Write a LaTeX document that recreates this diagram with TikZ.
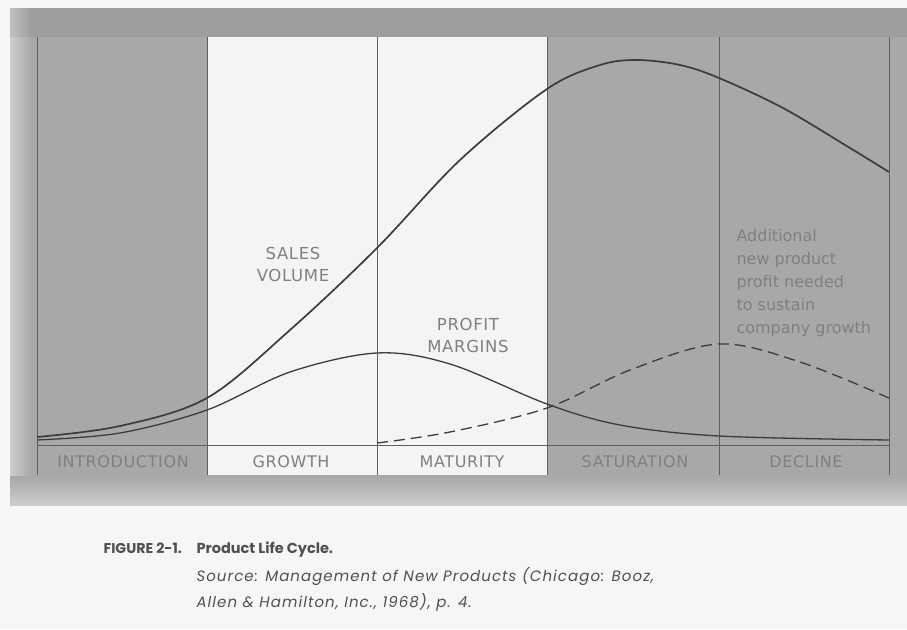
\documentclass[tikz,border=0pt]{standalone}
\usepackage{fontspec}
\setmainfont{Liberation Sans}
\newfontfamily\capfont{Poppins}
\newfontfamily\capfontwide[LetterSpace=7]{Poppins}
\newfontfamily\chartfont{DejaVu Sans}
\newfontfamily\chartfontwide[LetterSpace=4]{DejaVu Sans}
\definecolor{bandgray}{RGB}{168,168,168}
\definecolor{bandlight}{RGB}{205,205,205}
\definecolor{pagebg}{RGB}{246,246,246}
\definecolor{panelwhite}{RGB}{244,244,246}
\definecolor{curvecol}{RGB}{60,60,60}
\definecolor{rulecol}{RGB}{95,95,95}
\definecolor{labelcol}{RGB}{128,128,128}
\definecolor{capcol}{RGB}{80,80,80}
\tikzset{
  phaseline/.style={draw=rulecol, line width=0.9pt},
  salescurve/.style={draw=curvecol, line width=1.7pt, smooth, tension=0.55},
  profitcurve/.style={draw=curvecol, line width=1.3pt, smooth, tension=0.55},
  newcurve/.style={draw=curvecol, line width=1.3pt, dash pattern=on 11pt off 6pt, smooth, tension=0.55},
  phaselabel/.style={font=\chartfontwide\fontsize{16}{18}\selectfont, text=labelcol, anchor=center},
  curvelabel/.style={font=\chartfontwide\fontsize{16.5}{22}\selectfont, text=labelcol, align=center},
  notelabel/.style={font=\chartfont\fontsize{16}{23}\selectfont, text=labelcol, align=left, anchor=north west},
  captext/.style={font=\capfont\fontsize{14.5}{16}\selectfont, text=capcol, anchor=base west},
  srctext/.style={font=\capfontwide\fontsize{15}{16}\selectfont, text=capcol, anchor=base west}
}
\begin{document}
\begin{tikzpicture}[x=1pt,y=-1pt]
\useasboundingbox (0,0) rectangle (907,629);
\fill[pagebg] (0,0) rectangle (907,629);
% gray band
\fill[bandgray] (10,8) rectangle (907,505);
\shade[left color=bandlight, right color=bandgray] (10,8) rectangle (32,505);
\shade[top color=bandgray, bottom color=bandlight] (10,476) rectangle (907,505);
\fill[black, opacity=0.06] (10,8) rectangle (907,37);
% white panel
\fill[panelwhite] (207,37) rectangle (547,475);
% phase lines
\foreach \xx in {37,207,377,547,719,889}
  \draw[phaseline] (\xx,37) -- (\xx,475);
% baseline
\draw[phaseline] (37,445) -- (889,445);
% curves
\draw[salescurve] plot coordinates {(37,437) (120,426) (207,398) (290,330) (377,248) (460,160) (547,89) (600,65) (637,60) (680,65) (719,78) (783,108) (850,148) (889,172)};
\draw[profitcurve] plot coordinates {(37,440) (120,433) (207,410) (290,372) (377,353) (450,364) (547,404) (620,425) (719,436) (889,440)};
\draw[newcurve] plot coordinates {(377,443) (450,432) (547,408) (630,370) (719,344) (800,362) (889,398)};
% curve labels
\node[curvelabel] (sales) at (293,264) {SALES\\VOLUME};
\node[curvelabel] (profit) at (468,335) {PROFIT\\MARGINS};
\node[notelabel] (note) at (733,226) {Additional\\new product\\profit needed\\to sustain\\company growth};
% phase labels
\node[phaselabel] (intro) at (123,462) {INTRODUCTION};
\node[phaselabel] (growth) at (291,462) {GROWTH};
\node[phaselabel] (maturity) at (462,462) {MATURITY};
\node[phaselabel] (saturation) at (635,462) {SATURATION};
\node[phaselabel] (decline) at (806,462) {DECLINE};
% caption
\node[captext, font=\capfont\fontsize{14.2}{16}\selectfont] (fig) at (100,553) {\bfseries FIGURE 2-1.};
\node[captext] (title) at (193,553) {\bfseries Product Life Cycle.};
\node[srctext] (src1) at (193,581) {\itshape Source: Management of New Products (Chicago: Booz,};
\node[srctext] (src2) at (193,607) {\itshape Allen \& Hamilton, Inc., 1968), p. 4.};
\end{tikzpicture}
\end{document}
